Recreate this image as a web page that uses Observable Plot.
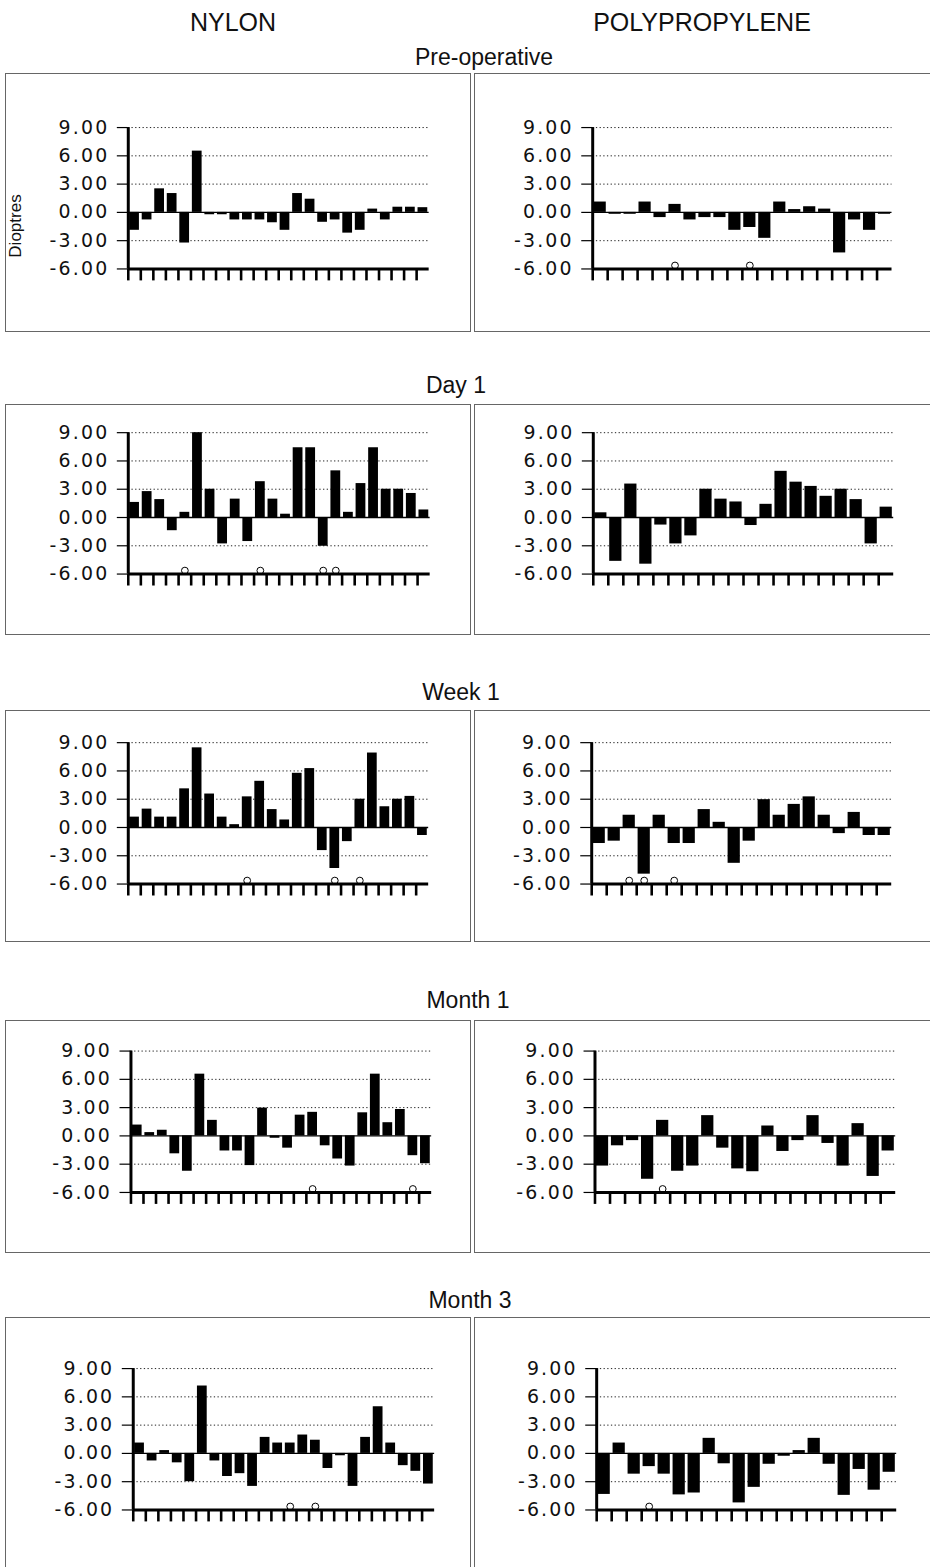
<!DOCTYPE html>
<html>
<head>
<meta charset="utf-8">
<script src="https://cdn.jsdelivr.net/npm/d3@7"></script>
<script src="https://cdn.jsdelivr.net/npm/@observablehq/plot@0.6"></script>
<style>
  html, body { margin: 0; padding: 0; background: #fff; }
  #page { position: relative; width: 930px; height: 1567px; overflow: hidden; background: #fff; }
  .title { position: absolute; transform: translate(-50%, -50%); font-family: "Liberation Sans", Arial, sans-serif; font-size: 22px; color: #111; white-space: nowrap; }
  .ylabel { position: absolute; transform: translate(-50%, -50%) rotate(-90deg); font-family: "Liberation Sans", Arial, sans-serif; font-size: 17px; color: #111; white-space: nowrap; }
  .box { position: absolute; box-sizing: border-box; border: 1px solid #666; }
  .box svg { position: absolute; left: -1px; top: -1px; }
</style>
</head>
<body>
<div id="page"></div>
<script>
// ---------- DATA (values in dioptres) ----------
const groups = ["NYLON", "POLYPROPYLENE"];
const periods = ["Pre-operative", "Day 1", "Week 1", "Month 1", "Month 3"];
const yTicks = [-6, -3, 0, 3, 6, 9];
const yLabel = "Dioptres";

const nylonPreop  = [-1.9, -0.8, 2.5, 2.0, -3.25, 6.5, -0.25, -0.25, -0.8, -0.8, -0.8, -1.1, -1.9, 2.0, 1.4, -1.05, -0.8, -2.2, -1.9, 0.35, -0.8, 0.55, 0.55, 0.5];
const ppPreop     = [1.1, -0.2, -0.2, 1.1, -0.55, 0.85, -0.8, -0.55, -0.55, -1.9, -1.6, -2.75, 1.1, 0.3, 0.6, 0.35, -4.3, -0.8, -1.9, -0.2];
const nylonDay1   = [1.6, 2.75, 1.9, -1.4, 0.55, 9.0, 3.0, -2.8, 1.95, -2.55, 3.8, 1.95, 0.35, 7.4, 7.4, -3.05, 4.95, 0.55, 3.6, 7.4, 3.0, 3.0, 2.55, 0.8];
const ppDay1      = [0.5, -4.65, 3.55, -4.95, -0.8, -2.8, -1.95, 3.0, 1.95, 1.65, -0.85, 1.4, 4.9, 3.75, 3.3, 2.25, 3.0, 1.9, -2.8, 1.1];
const nylonWeek1  = [1.1, 1.95, 1.1, 1.1, 4.1, 8.45, 3.55, 1.1, 0.3, 3.25, 4.9, 1.9, 0.8, 5.75, 6.25, -2.45, -4.35, -1.5, 3.0, 7.9, 2.2, 3.0, 3.3, -0.85];
const ppWeek1     = [-1.7, -1.45, 1.3, -4.95, 1.3, -1.7, -1.7, 1.9, 0.55, -3.8, -1.45, 2.95, 1.3, 2.45, 3.25, 1.3, -0.65, 1.6, -0.85, -0.85];
const nylonMonth1 = [1.15, 0.35, 0.6, -1.9, -3.75, 6.55, 1.65, -1.6, -1.6, -3.15, 2.95, -0.25, -1.3, 2.2, 2.5, -1.05, -2.45, -3.2, 2.45, 6.55, 1.4, 2.8, -2.1, -2.95];
const ppMonth1    = [-3.2, -1.05, -0.5, -4.6, 1.65, -3.75, -3.2, 2.15, -1.3, -3.5, -3.8, 1.05, -1.65, -0.5, 2.15, -0.8, -3.2, 1.3, -4.3, -1.6];
const nylonMonth3 = [1.1, -0.8, 0.3, -1.0, -3.0, 7.15, -0.8, -2.45, -2.15, -3.5, 1.7, 1.1, 1.1, 1.95, 1.4, -1.6, -0.25, -3.5, 1.7, 4.95, 1.1, -1.3, -1.9, -3.25];
const ppMonth3    = [-4.35, 1.1, -2.2, -1.4, -2.2, -4.4, -4.2, 1.6, -1.1, -5.25, -3.6, -1.15, -0.3, 0.3, 1.6, -1.15, -4.45, -1.7, -3.9, -2.0];

// patients marked with an open circle (1-based position)
const nylonPreopMarks  = [];
const ppPreopMarks     = [6, 11];
const nylonDay1Marks   = [5, 11, 16, 17];
const ppDay1Marks      = [];
const nylonWeek1Marks  = [10, 17, 19];
const ppWeek1Marks     = [3, 4, 6];
const nylonMonth1Marks = [15, 23];
const ppMonth1Marks    = [5];
const nylonMonth3Marks = [13, 15];
const ppMonth3Marks    = [4];

// ---------- LAYOUT ----------
const rows = [
  {nylon: nylonPreop,  pp: ppPreop,  nm: nylonPreopMarks,  pm: ppPreopMarks,  titleX: 484, titleY: 57,   boxTop: 73,   boxBottom: 332,  plotTop: 127.3,  lx: [128.3, 430.5], rx: [592.7, 893.3]},
  {nylon: nylonDay1,   pp: ppDay1,   nm: nylonDay1Marks,   pm: ppDay1Marks,   titleX: 456, titleY: 385,  boxTop: 404,  boxBottom: 635,  plotTop: 432.3,  lx: [128.3, 431.5], rx: [593.3, 895]},
  {nylon: nylonWeek1,  pp: ppWeek1,  nm: nylonWeek1Marks,  pm: ppWeek1Marks,  titleX: 461, titleY: 692,  boxTop: 710,  boxBottom: 942,  plotTop: 742.3,  lx: [128.3, 430],   rx: [591.7, 893]},
  {nylon: nylonMonth1, pp: ppMonth1, nm: nylonMonth1Marks, pm: ppMonth1Marks, titleX: 468, titleY: 1000, boxTop: 1020, boxBottom: 1253, plotTop: 1050.7, lx: [131, 433],     rx: [595, 897]},
  {nylon: nylonMonth3, pp: ppMonth3, nm: nylonMonth3Marks, pm: ppMonth3Marks, titleX: 470, titleY: 1300, boxTop: 1317, boxBottom: 1600, plotTop: 1368.3, lx: [133.3, 436],   rx: [596.7, 898]}
];
const plotH = 142;
const boxes = [{left: 5, right: 471}, {left: 474, right: 945}];

const page = document.getElementById("page");

function addTitle(text, x, y, size, cls) {
  const d = document.createElement("div");
  d.className = cls || "title";
  d.textContent = text;
  d.style.left = x + "px";
  d.style.top = y + "px";
  if (size) d.style.fontSize = size + "px";
  page.appendChild(d);
}

addTitle(groups[0], 233, 22, 25);
addTitle(groups[1], 702, 22, 25);

function panel(values, marks, box, row, px) {
  const n = values.length;
  const data = values.map((v, i) => ({i, i2: i + 1, v}));
  const markData = marks.map(m => ({c: m - 0.5, base: -6}));
  const W = box.right - box.left, H = row.boxBottom - row.boxTop;
  const div = document.createElement("div");
  div.className = "box";
  div.style.left = box.left + "px";
  div.style.top = row.boxTop + "px";
  div.style.width = W + "px";
  div.style.height = H + "px";
  const chart = Plot.plot({
    width: W,
    height: H,
    marginLeft: px[0] - box.left,
    marginRight: box.right - px[1],
    marginTop: row.plotTop - row.boxTop,
    marginBottom: row.boxBottom - (row.plotTop + plotH),
    x: {domain: [0, n], axis: null},
    y: {domain: [-6, 9], axis: null},
    style: {background: "transparent", fontFamily: "'DejaVu Sans', Verdana, sans-serif", fontSize: "19px", color: "#111", overflow: "visible"},
    marks: [
      Plot.ruleY([9, 6, 3, -3], {stroke: "#222", strokeWidth: 1, strokeDasharray: "1.3,2.4"}),
      Plot.ruleY([0], {stroke: "#000", strokeWidth: 1.3}),
      Plot.rect(data, {x1: "i", x2: "i2", y1: () => 0, y2: "v", fill: "#000", insetLeft: 1.4, insetRight: 1.4}),
      Plot.dot(markData, {x: "c", y: "base", dy: -3.5, r: 3.4, stroke: "#000", strokeWidth: 1, fill: "#fff"}),
      Plot.axisY(yTicks, {tickSize: 11, tickPadding: 8, tickFormat: d => d.toFixed(2), fontSize: 19, label: null, stroke: "#000", strokeWidth: 1.2}),
      Plot.axisX(d3.range(n), {tickSize: 12, tickFormat: () => "", label: null, stroke: "#000", strokeWidth: 2.6}),
      Plot.ruleX([0], {y1: () => -6, y2: () => 9, stroke: "#000", strokeWidth: 3}),
      Plot.ruleY([-6], {stroke: "#000", strokeWidth: 3})
    ]
  });
  chart.querySelectorAll("text").forEach(t => {
    if (/^-?\d\.\d\d$/.test(t.textContent)) t.setAttribute("letter-spacing", "2.2");
  });
  div.appendChild(chart);
  page.appendChild(div);
}

rows.forEach((row, k) => {
  addTitle(periods[k], row.titleX, row.titleY, 23);
  panel(row.nylon, row.nm, boxes[0], row, row.lx);
  panel(row.pp, row.pm, boxes[1], row, row.rx);
});
addTitle(yLabel, 16, 226, 17, "ylabel");
</script>
</body>
</html>
